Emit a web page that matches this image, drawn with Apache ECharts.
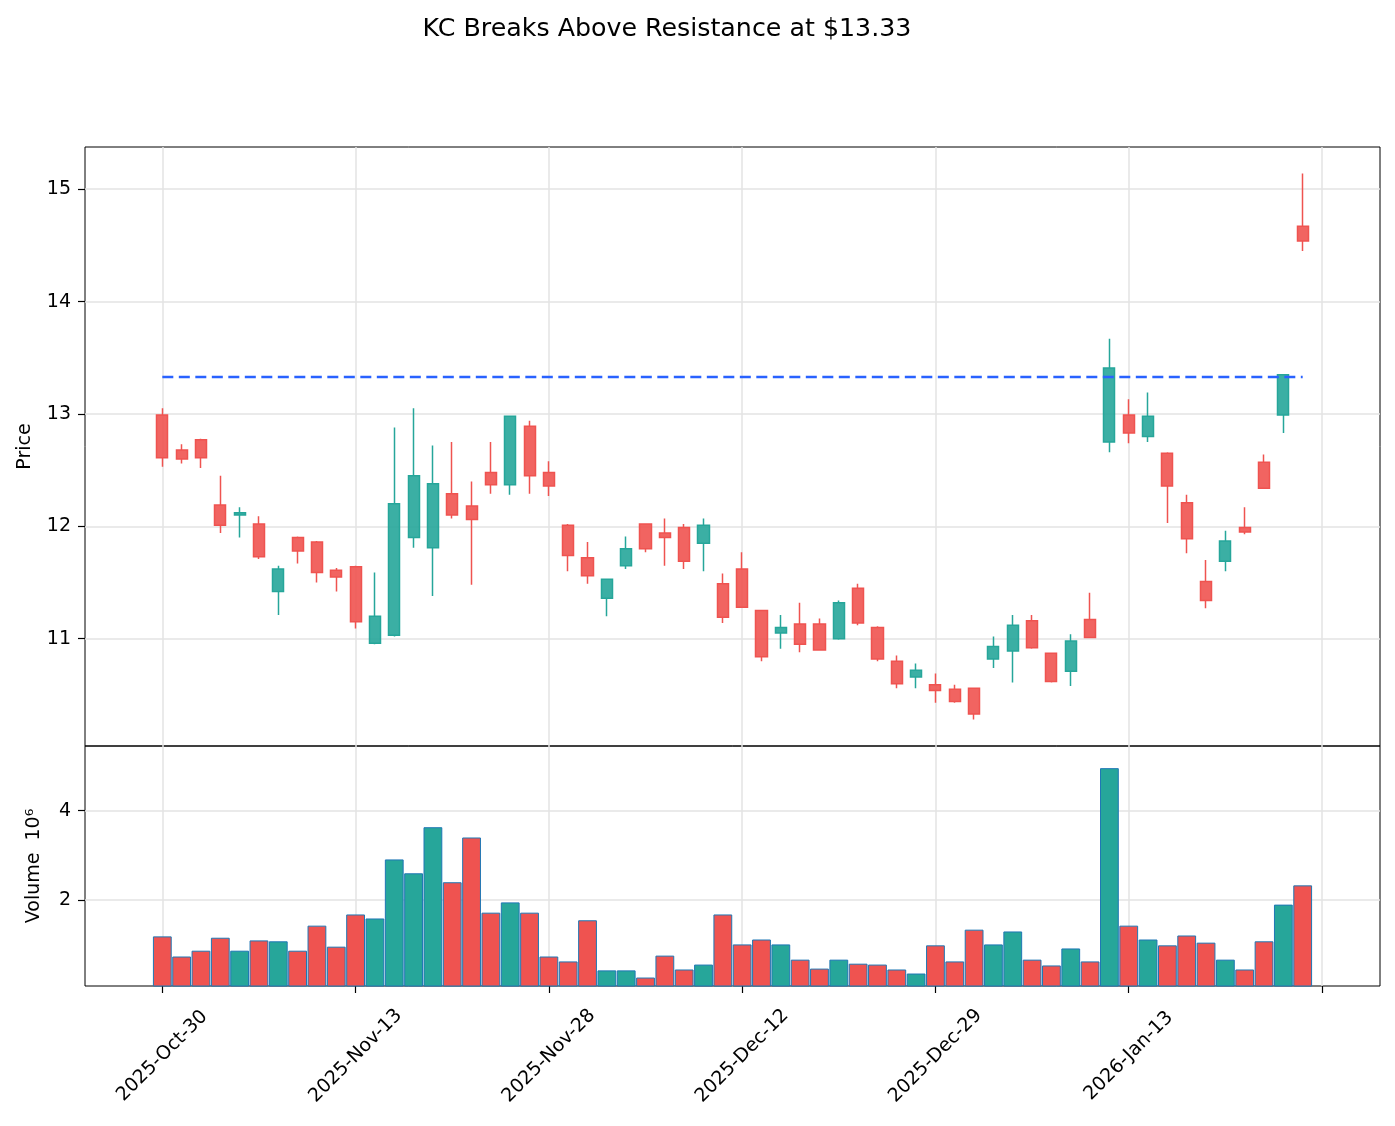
<!DOCTYPE html>
<html><head><meta charset="utf-8">
<script src="https://cdn.jsdelivr.net/npm/echarts@6/dist/echarts.min.js"></script>
<style>html,body{margin:0;padding:0;background:#fff}#c{width:1395px;height:1126px}</style>
</head><body><div id="c"></div>
<script>
const dates = ['2025-Oct-30','2025-Oct-31','2025-Nov-03','2025-Nov-04','2025-Nov-05','2025-Nov-06','2025-Nov-07','2025-Nov-10','2025-Nov-11','2025-Nov-12',
'2025-Nov-13','2025-Nov-14','2025-Nov-17','2025-Nov-18','2025-Nov-19','2025-Nov-20','2025-Nov-21','2025-Nov-24','2025-Nov-25','2025-Nov-26',
'2025-Nov-28','2025-Dec-01','2025-Dec-02','2025-Dec-03','2025-Dec-04','2025-Dec-05','2025-Dec-08','2025-Dec-09','2025-Dec-10','2025-Dec-11',
'2025-Dec-12','2025-Dec-15','2025-Dec-16','2025-Dec-17','2025-Dec-18','2025-Dec-19','2025-Dec-22','2025-Dec-23','2025-Dec-24','2025-Dec-26',
'2025-Dec-29','2025-Dec-30','2025-Dec-31','2026-Jan-02','2026-Jan-05','2026-Jan-06','2026-Jan-07','2026-Jan-08','2026-Jan-09','2026-Jan-12',
'2026-Jan-13','2026-Jan-14','2026-Jan-15','2026-Jan-16','2026-Jan-20','2026-Jan-21','2026-Jan-22','2026-Jan-23','2026-Jan-26','2026-Jan-27'];
const opens  = [12.99,12.68,12.77,12.19,12.10,12.02,11.42,11.90,11.86,11.61, 11.64,10.96,11.03,11.90,11.81,12.29,12.18,12.48,12.37,12.89,
                12.48,12.01,11.72,11.36,11.65,12.02,11.94,11.99,11.85,11.49, 11.62,11.25,11.05,11.13,11.13,11.00,11.45,11.10,10.80,10.66,
                10.59,10.55,10.56,10.82,10.89,11.16,10.87,10.71,11.17,12.75, 12.99,12.80,12.65,12.21,11.51,11.69,11.99,12.57,12.99,14.67];
const closes = [12.61,12.60,12.61,12.01,12.12,11.73,11.62,11.78,11.59,11.55, 11.15,11.20,12.20,12.45,12.38,12.10,12.06,12.37,12.98,12.45,
                12.36,11.74,11.56,11.53,11.80,11.80,11.90,11.69,12.01,11.19, 11.28,10.84,11.10,10.95,10.90,11.32,11.14,10.82,10.60,10.72,
                10.54,10.44,10.33,10.93,11.12,10.92,10.62,10.98,11.01,13.41, 12.83,12.98,12.36,11.89,11.34,11.87,11.95,12.34,13.35,14.54];
const lows   = [12.53,12.56,12.52,11.94,11.90,11.71,11.21,11.67,11.50,11.42, 11.09,10.95,11.02,11.81,11.38,12.07,11.48,12.29,12.28,12.29,
                12.27,11.60,11.49,11.20,11.62,11.77,11.65,11.62,11.60,11.14, 11.28,10.80,10.91,10.88,10.90,10.99,11.12,10.80,10.56,10.56,
                10.43,10.43,10.28,10.74,10.61,10.91,10.61,10.58,11.01,12.66, 12.74,12.75,12.03,11.76,11.27,11.60,11.93,12.34,12.83,14.45];
const highs  = [13.05,12.73,12.78,12.45,12.17,12.09,11.65,11.91,11.87,11.63, 11.65,11.59,12.88,13.05,12.72,12.75,12.40,12.75,12.98,12.94,
                12.58,12.02,11.86,11.53,11.91,12.02,12.07,12.02,12.07,11.58, 11.77,11.25,11.21,11.32,11.18,11.34,11.49,11.11,10.85,10.78,
                10.69,10.59,10.56,11.02,11.21,11.21,10.87,11.04,11.41,13.67, 13.13,13.19,12.66,12.28,11.70,11.96,12.17,12.64,13.35,15.14];
const volumesM = [1.19,0.74,0.87,1.16,0.87,1.10,1.08,0.87,1.43,0.96, 1.68,1.59,2.91,2.60,3.63,2.40,3.40,1.72,1.95,1.72,
                  0.74,0.63,1.55,0.43,0.43,0.27,0.76,0.45,0.56,1.68, 1.01,1.12,1.01,0.67,0.47,0.67,0.58,0.56,0.45,0.36,
                  0.99,0.63,1.34,1.01,1.30,0.67,0.54,0.92,0.63,4.95, 1.43,1.12,0.99,1.21,1.05,0.67,0.45,1.08,1.90,2.33];
const resistance = 13.33;
const priceTicks = [11, 12, 13, 14, 15];
const volumeTicks = [2, 4];
const titleText = 'KC Breaks Above Resistance at $13.33';

const PAD = 4;
const UP = '#26a69a', DOWN = '#ef5350';
const cats = [];
for (let i = 0; i < PAD; i++) cats.push('pad-l' + i);
dates.forEach(d => cats.push(d));
for (let i = 0; i < PAD; i++) cats.push('pad-r' + i);
const tickIdx = new Set(); for (let k = 0; k <= 60; k += 10) tickIdx.add(k + PAD);
const labelIdx = new Set(); for (let k = 0; k < dates.length; k += 10) labelIdx.add(k + PAD);

const candleData = dates.map((d, i) => [i + PAD, opens[i], closes[i], lows[i], highs[i]]);
const volData = dates.map((d, i) => ({
  value: [i + PAD, volumesM[i]],
  itemStyle: { color: closes[i] >= opens[i] ? UP : DOWN }
}));
const priceMin = 10.045, priceMax = 15.376;
const volMin = 0.3 * Math.min(...volumesM), volMax = 1.1 * Math.max(...volumesM);

const FONT = 'DejaVu Sans';
const FS = 19;
const gridLine = { show: true, lineStyle: { color: '#e3e3e3', width: 1.5 } };
const chart = echarts.init(document.getElementById('c'), null, { renderer: 'canvas' });
chart.setOption({
  animation: false,
  backgroundColor: '#fff',
  textStyle: { fontFamily: FONT },
  title: { text: titleText, left: 662, top: 12, textAlign: 'center',
           textStyle: { fontFamily: FONT, fontSize: 25.3, fontWeight: 'normal', color: '#000' } },
  grid: [
    { left: 85, top: 147, width: 1295, height: 599, show: true, borderColor: '#000', borderWidth: 1, containLabel: false },
    { left: 85, top: 746, width: 1295, height: 240, show: true, borderColor: '#000', borderWidth: 1, containLabel: false }
  ],
  xAxis: [
    { type: 'category', gridIndex: 0, data: cats, boundaryGap: false,
      axisLine: { show: false }, axisTick: { show: false }, axisLabel: { show: false },
      splitLine: Object.assign({ interval: (i) => tickIdx.has(i) }, gridLine) },
    { type: 'category', gridIndex: 1, data: cats, boundaryGap: false,
      axisLine: { show: false },
      axisTick: { show: true, length: 7, interval: (i) => tickIdx.has(i), lineStyle: { color: '#000', width: 1.2 } },
      axisLabel: { show: true, rotate: 45, margin: 70, fontSize: FS, color: '#000', fontFamily: FONT,
                   align: 'center', verticalAlign: 'middle',
                   interval: (i) => labelIdx.has(i) },
      splitLine: Object.assign({ interval: (i) => tickIdx.has(i) }, gridLine) }
  ],
  yAxis: [
    { type: 'value', gridIndex: 0, min: priceMin, max: priceMax, minInterval: 1, maxInterval: 1,
      name: 'Price', nameLocation: 'middle', nameGap: 50, nameRotate: 90,
      nameTextStyle: { fontSize: FS, color: '#000', fontFamily: FONT },
      axisLine: { show: false },
      axisTick: { show: true, length: 7, customValues: priceTicks, lineStyle: { color: '#000', width: 1.2 } },
      axisLabel: { fontSize: FS, color: '#000', margin: 14, fontFamily: FONT, customValues: priceTicks },
      splitLine: gridLine },
    { type: 'value', gridIndex: 1, min: volMin, max: volMax, minInterval: 2, maxInterval: 2,
      name: 'Volume  10⁶', nameLocation: 'middle', nameGap: 41, nameRotate: 90,
      nameTextStyle: { fontSize: FS, color: '#000', fontFamily: FONT },
      axisLine: { show: false },
      axisTick: { show: true, length: 7, customValues: volumeTicks, lineStyle: { color: '#000', width: 1.2 } },
      axisLabel: { fontSize: FS, color: '#000', margin: 14, fontFamily: FONT, customValues: volumeTicks },
      splitLine: gridLine }
  ],
  series: [
    { type: 'candlestick', xAxisIndex: 0, yAxisIndex: 0, data: candleData,
      encode: { x: 0, y: [1, 2, 3, 4] }, barWidth: 11.6,
      itemStyle: { color: 'rgba(38,166,154,0.9)', color0: 'rgba(239,83,80,0.9)',
                   borderColor: UP, borderColor0: DOWN, borderWidth: 1.5 } },
    { type: 'line', xAxisIndex: 0, yAxisIndex: 0, symbol: 'none', z: 5,
      data: [[PAD, resistance], [PAD + dates.length - 1, resistance]],
      lineStyle: { color: '#2962ff', width: 2.5, type: [11, 5.5] } },
    { type: 'bar', xAxisIndex: 1, yAxisIndex: 1, data: volData, barWidth: 18.8,
      itemStyle: { borderColor: '#1f77b4', borderWidth: 1 } }
  ]
});
</script></body></html>
